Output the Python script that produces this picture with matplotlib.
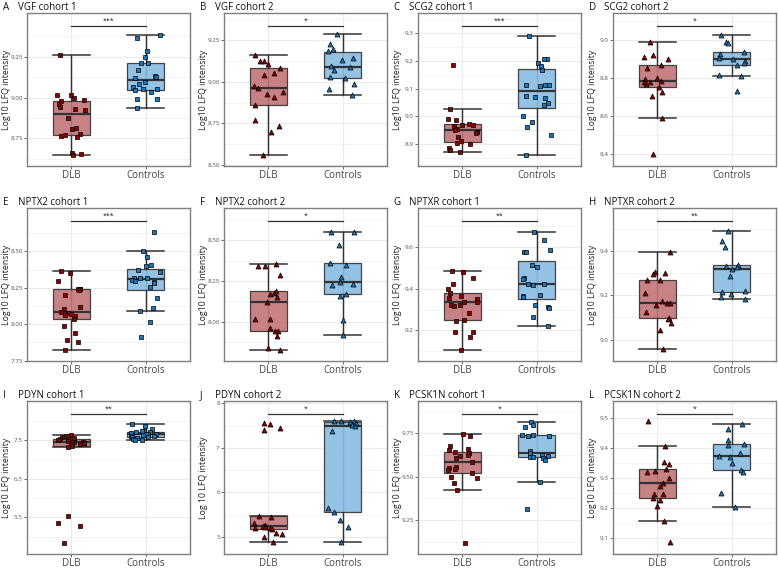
import numpy as np
import matplotlib
matplotlib.use("Agg")
import matplotlib.pyplot as plt
from matplotlib.ticker import FixedLocator, FormatStrFormatter

plt.rcParams['font.family'] = ['Open Sans', 'DejaVu Sans']

# -------- DATA (log10 LFQ intensity per subject) --------
groups = ["DLB", "Controls"]

vgf1_dlb = [9.258, 9.016, 9.00, 9.016, 8.98, 8.986, 8.959, 8.945, 8.924, 8.93, 8.873,
            8.81, 8.813, 8.77, 8.764, 8.775, 8.76, 8.664, 8.656, 8.65]
vgf1_ctrl = [9.379, 9.365, 9.283, 9.248, 9.211, 9.211, 9.17, 9.133, 9.123, 9.121, 9.096,
             9.084, 9.064, 9.051, 9.051, 9.043, 9.035, 8.99, 8.994, 8.939]
vgf2_dlb = [9.163, 9.126, 9.124, 9.106, 9.085, 9.055, 9.041, 8.972, 8.965, 8.937, 8.925,
            8.906, 8.858, 8.77, 8.736, 8.701, 8.563]
vgf2_ctrl = [9.285, 9.228, 9.199, 9.187, 9.142, 9.13, 9.095, 9.087, 9.069, 9.028, 9.024,
             8.988, 8.955, 8.921]
scg1_dlb = [9.184, 9.026, 8.992, 8.988, 8.974, 8.971, 8.97, 8.966, 8.954, 8.952, 8.945,
            8.94, 8.926, 8.912, 8.904, 8.902, 8.888, 8.88, 8.874]
scg1_ctrl = [9.288, 9.204, 9.204, 9.192, 9.18, 9.166, 9.113, 9.112, 9.112, 9.108, 9.072,
             9.068, 9.065, 9.048, 9.042, 9.0, 8.981, 8.962, 8.935, 8.864]
scg2_dlb = [8.989, 8.922, 8.911, 8.901, 8.869, 8.849, 8.798, 8.791, 8.785, 8.78, 8.78,
            8.766, 8.752, 8.723, 8.702, 8.585, 8.397]
scg2_ctrl = [9.025, 8.989, 8.982, 8.936, 8.927, 8.906, 8.897, 8.888, 8.879, 8.865, 8.814,
             8.81, 8.732]
nptx2_1_dlb = [8.367, 8.351, 8.298, 8.245, 8.245, 8.239, 8.234, 8.202, 8.122, 8.106, 8.085,
               8.076, 8.071, 8.064, 8.057, 8.035, 7.989, 7.938, 7.89, 7.881, 7.823]
nptx2_1_ctrl = [8.633, 8.5, 8.459, 8.408, 8.397, 8.374, 8.356, 8.321, 8.321, 8.317, 8.305,
                8.298, 8.287, 8.282, 8.255, 8.179, 8.115, 8.092, 8.014, 7.915]
nptx2_2_dlb = [8.355, 8.342, 8.344, 8.285, 8.178, 8.189, 8.168, 8.152, 8.119, 8.018, 8.018,
               7.963, 7.945, 7.941, 7.916, 7.84, 7.828]
nptx2_2_ctrl = [8.547, 8.553, 8.471, 8.361, 8.346, 8.277, 8.246, 8.232, 8.227, 8.17, 8.156,
                8.01, 7.918]
nptxr1_dlb = [9.487, 9.479, 9.45, 9.424, 9.398, 9.381, 9.366, 9.352, 9.355, 9.334, 9.335,
              9.324, 9.321, 9.318, 9.284, 9.25, 9.247, 9.194, 9.19, 9.169, 9.103]
nptxr1_ctrl = [9.674, 9.637, 9.585, 9.579, 9.579, 9.516, 9.505, 9.45, 9.445, 9.423, 9.419,
               9.421, 9.371, 9.366, 9.36, 9.324, 9.311, 9.308, 9.263, 9.223]
nptxr2_dlb = [9.393, 9.305, 9.3, 9.296, 9.27, 9.27, 9.21, 9.172, 9.166, 9.166, 9.158,
              9.124, 9.098, 9.091, 9.074, 9.044, 8.957]
nptxr2_ctrl = [9.488, 9.443, 9.419, 9.335, 9.33, 9.326, 9.32, 9.285, 9.218, 9.215, 9.206,
               9.191, 9.184]
pdyn1_dlb = [7.63, 7.60, 7.58, 7.56, 7.54, 7.52, 7.50, 7.48, 7.46, 7.45, 7.44, 7.43, 7.42,
             7.41, 7.39, 7.36, 7.33, 5.526, 5.353, 5.292, 4.833]
pdyn1_ctrl = [7.92, 7.87, 7.78, 7.74, 7.73, 7.72, 7.70, 7.69, 7.67, 7.66, 7.65, 7.64, 7.62,
              7.60, 7.59, 7.58, 7.56, 7.54, 7.50, 7.50]
pdyn2_dlb = [7.556, 7.525, 7.448, 7.402, 5.476, 5.437, 5.307, 5.269, 5.253, 5.23, 5.207,
             5.192, 5.177, 5.084, 5.069, 5.0, 4.877]
pdyn2_ctrl = [7.61, 7.60, 7.59, 7.58, 7.55, 7.51, 7.49, 7.38, 5.65, 5.55, 5.39, 5.23, 4.885]
pcsk1_dlb = [9.744, 9.734, 9.676, 9.66, 9.652, 9.643, 9.633, 9.623, 9.619, 9.607, 9.582,
             9.555, 9.551, 9.543, 9.539, 9.521, 9.5, 9.492, 9.461, 9.424, 9.119]
pcsk1_ctrl = [9.813, 9.793, 9.785, 9.74, 9.738, 9.734, 9.732, 9.646, 9.633, 9.625, 9.619,
              9.613, 9.609, 9.607, 9.594, 9.471, 9.314]
pcsk2_dlb = [9.489, 9.407, 9.354, 9.346, 9.331, 9.322, 9.319, 9.299, 9.282, 9.273, 9.247,
             9.245, 9.233, 9.226, 9.206, 9.154, 9.085]
pcsk2_ctrl = [9.479, 9.462, 9.426, 9.414, 9.41, 9.382, 9.373, 9.371, 9.35, 9.327, 9.319,
              9.25, 9.202]

panel_data = [
    (vgf1_dlb, vgf1_ctrl), (vgf2_dlb, vgf2_ctrl), (scg1_dlb, scg1_ctrl), (scg2_dlb, scg2_ctrl),
    (nptx2_1_dlb, nptx2_1_ctrl), (nptx2_2_dlb, nptx2_2_ctrl), (nptxr1_dlb, nptxr1_ctrl),
    (nptxr2_dlb, nptxr2_ctrl), (pdyn1_dlb, pdyn1_ctrl), (pdyn2_dlb, pdyn2_ctrl),
    (pcsk1_dlb, pcsk1_ctrl), (pcsk2_dlb, pcsk2_ctrl),
]
titles = ["VGF cohort 1", "VGF cohort 2", "SCG2 cohort 1", "SCG2 cohort 2",
          "NPTX2 cohort 1", "NPTX2 cohort 2", "NPTXR cohort 1", "NPTXR cohort 2",
          "PDYN cohort 1", "PDYN cohort 2", "PCSK1N cohort 1", "PCSK1N cohort 2"]
letters = list("ABCDEFGHIJKL")
stars = ["***", "*", "***", "*", "***", "*", "**", "**", "**", "*", "*", "*"]
cohort = [1, 2, 1, 2, 1, 2, 1, 2, 1, 2, 1, 2]
ylabels = ["Log10 LFQ intensity"] * 12
ylabels[9] = "Log 10 LFQ intensity"

# -------- AXIS SETTINGS --------
ylims = [(8.582, 9.516), (8.494, 9.413), (8.823, 9.37), (8.334, 9.142),
         (7.748, 8.798), (7.76, 8.697), (9.052, 9.789), (8.904, 9.593),
         (4.556, 8.513), (4.616, 8.05), (9.057, 9.932), (9.045, 9.557)]
yticks = [[8.75, 9.0, 9.25], [8.5, 8.75, 9.0, 9.25], [8.9, 9.0, 9.1, 9.2, 9.3],
          [8.4, 8.6, 8.8, 9.0], [7.75, 8.0, 8.25, 8.5], [8.0, 8.25, 8.5],
          [9.2, 9.4, 9.6], [9.0, 9.2, 9.4], [5.5, 6.5, 7.5], [5, 6, 7, 8],
          [9.25, 9.5, 9.75], [9.1, 9.2, 9.3, 9.4, 9.5]]
yfmts = ['%.2f', '%.2f', '%.1f', '%.1f', '%.2f', '%.2f', '%.1f', '%.1f', '%.1f', '%.0f',
         '%.2f', '%.1f']

box_colors = ["#C27478", "#88BCE3"]
point_colors = ["#8B0000", "#1F77B8"]
edge = "#333333"

W, H = 778, 569
col_left = [27, 224, 418, 613]
row_top = [13, 208, 401]
pw, ph = 163, 153

fig = plt.figure(figsize=(W / 100, H / 100), dpi=100)
rng = np.random.default_rng(11)

for i, (dlb, ctrl) in enumerate(panel_data):
    r, c = divmod(i, 4)
    ax = fig.add_axes([col_left[c] / W, 1 - (row_top[r] + ph) / H, pw / W, ph / H])
    vals = [dlb, ctrl]

    bp = ax.boxplot(vals, positions=[1, 2], widths=0.5, capwidths=0.5, patch_artist=True,
                    showfliers=False, whis=1.5,
                    medianprops=dict(color=edge, lw=1.6),
                    boxprops=dict(edgecolor=edge, lw=0.9),
                    whiskerprops=dict(color=edge, lw=0.9),
                    capprops=dict(color=edge, lw=1.1))
    for k, patch in enumerate(bp['boxes']):
        patch.set_facecolor(box_colors[k])
        patch.set_alpha(0.9)
        patch.set_zorder(2)
        lo = bp['whiskers'][2 * k].get_ydata()[1]
        hi = bp['whiskers'][2 * k + 1].get_ydata()[1]
        ax.plot([k + 1, k + 1], [lo, hi], color=edge, lw=0.9, zorder=1.5)

    marker = 's' if cohort[i] == 1 else '^'
    for k, v in enumerate(vals):
        xj = (k + 1) + rng.uniform(-0.2, 0.2, len(v))
        ax.scatter(xj, v, marker=marker, s=10 if marker == 's' else 13,
                   color=point_colors[k], edgecolor='black', linewidth=0.5, zorder=3)

    # significance bar
    ax.plot([1, 2], [0.918, 0.918], color=edge, lw=0.9, transform=ax.get_xaxis_transform())
    ax.text(1.5, 0.925, stars[i], ha='center', va='bottom', fontsize=5,
            transform=ax.get_xaxis_transform(), color='#222222')

    ax.set_xlim(0.4, 2.6)
    ax.set_xticks([1, 2])
    ax.set_xticklabels(groups)
    t = yticks[i]
    step = t[1] - t[0]
    ax.yaxis.set_major_locator(FixedLocator(t))
    ax.yaxis.set_minor_locator(FixedLocator(np.arange(t[0] - 5.5 * step, t[-1] + 5 * step, step)))
    ax.yaxis.set_major_formatter(FormatStrFormatter(yfmts[i]))
    ax.set_ylim(*ylims[i])

    ax.grid(which='major', color='#EBEBEB', lw=0.8, zorder=0)
    ax.grid(which='minor', axis='y', color='#EBEBEB', lw=0.4, zorder=0)
    ax.set_axisbelow(True)
    for s in ax.spines.values():
        s.set_color('#7F7F7F')
        s.set_linewidth(1.0)
    ax.tick_params(axis='y', which='major', labelsize=4.5, labelcolor='#555555',
                   length=2, width=0.6, color='#555555', pad=1)
    ax.tick_params(axis='y', which='minor', length=0)
    ax.tick_params(axis='x', labelsize=7, labelcolor='#444444', length=2, width=0.6,
                   color='#555555', pad=1)

    ax.set_ylabel(ylabels[i], fontsize=6.3, color='#222222')
    ax.yaxis.set_label_coords(-0.1, 0.5)
    ax.text(-0.055, 1.02, titles[i], transform=ax.transAxes, fontsize=7,
            ha='left', va='baseline', color='#111111')
    ax.text(-0.15, 1.02, letters[i], transform=ax.transAxes, fontsize=7,
            ha='left', va='baseline', color='#111111')

fig.savefig("out.png", dpi=100)
